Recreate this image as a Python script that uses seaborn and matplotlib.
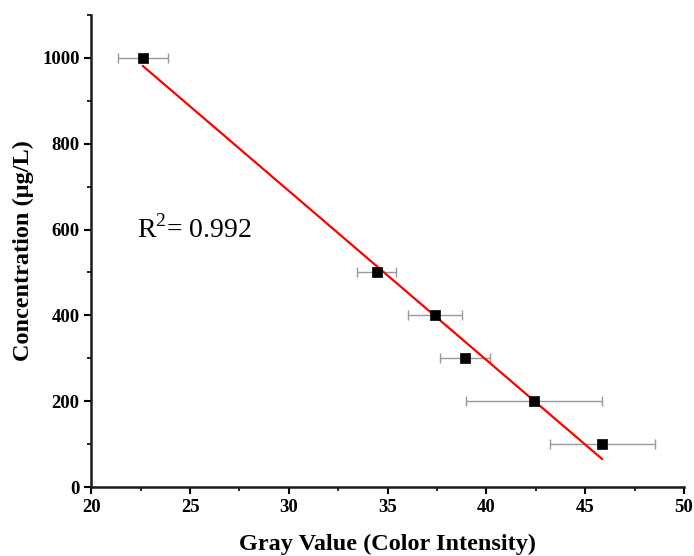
import numpy as np
import pandas as pd
import seaborn as sns
import matplotlib
matplotlib.use('Agg')
import matplotlib.pyplot as plt
from matplotlib.ticker import MultipleLocator

# data
gray_value = [22.60, 34.44, 37.39, 38.91, 42.40, 45.86]
gray_err = [1.26, 0.98, 1.38, 1.27, 3.45, 2.66]
concentration = [1000, 500, 400, 300, 200, 100]
r2_text = 'R$^2$= 0.992'

df = pd.DataFrame({'gray': gray_value, 'conc': concentration, 'err': gray_err})

sns.set_style('ticks')
plt.rcParams['font.family'] = ['Liberation Serif', 'DejaVu Serif']
plt.rcParams['mathtext.fontset'] = 'custom'
plt.rcParams['mathtext.rm'] = 'Liberation Serif'
plt.rcParams['text.color'] = 'black'
plt.rcParams['axes.labelcolor'] = 'black'
plt.rcParams['xtick.color'] = 'black'
plt.rcParams['ytick.color'] = 'black'

fig = plt.figure(figsize=(6.94, 5.56), dpi=100)
ax = fig.add_axes([0.1316, 0.1241, 0.854, 0.849])

# linear fit line
sns.regplot(data=df, x='gray', y='conc', ax=ax, ci=None, scatter=False,
            line_kws={'color': 'red', 'lw': 1.6, 'zorder': 3})

# horizontal error bars
ax.errorbar(df['gray'], df['conc'], xerr=df['err'], fmt='none',
            ecolor='#999999', elinewidth=1.0, capsize=3.5, capthick=1.0, zorder=2)

# points
sns.scatterplot(data=df, x='gray', y='conc', ax=ax, marker='s', color='black',
                s=55, edgecolor='black', linewidth=0.5, zorder=4)

ax.text(22.3, 600, r2_text, fontsize=20, va='center', ha='left', color='black')

ax.set_xlim(20, 50)
ax.set_ylim(0, 1100)
ax.xaxis.set_major_locator(MultipleLocator(5))
ax.xaxis.set_minor_locator(MultipleLocator(2.5))
ax.yaxis.set_major_locator(MultipleLocator(200))
ax.yaxis.set_minor_locator(MultipleLocator(100))
ax.set_yticks([0, 200, 400, 600, 800, 1000])

ax.tick_params(which='major', direction='out', length=5, width=1.5, labelsize=13.5)
ax.tick_params(which='minor', direction='out', length=3, width=1.2)
for lbl in ax.get_xticklabels() + ax.get_yticklabels():
    lbl.set_fontweight('bold')

sns.despine(ax=ax)
for side in ['left', 'bottom']:
    ax.spines[side].set_linewidth(1.8)
    ax.spines[side].set_color('#1a1a1a')

ax.set_xlabel('Gray Value (Color Intensity)', fontsize=17.5, fontweight='bold', labelpad=13)
ax.set_ylabel('Concentration (µg/L)', fontsize=17.5, fontweight='bold', labelpad=6)

fig.savefig('out.png', dpi=100)
